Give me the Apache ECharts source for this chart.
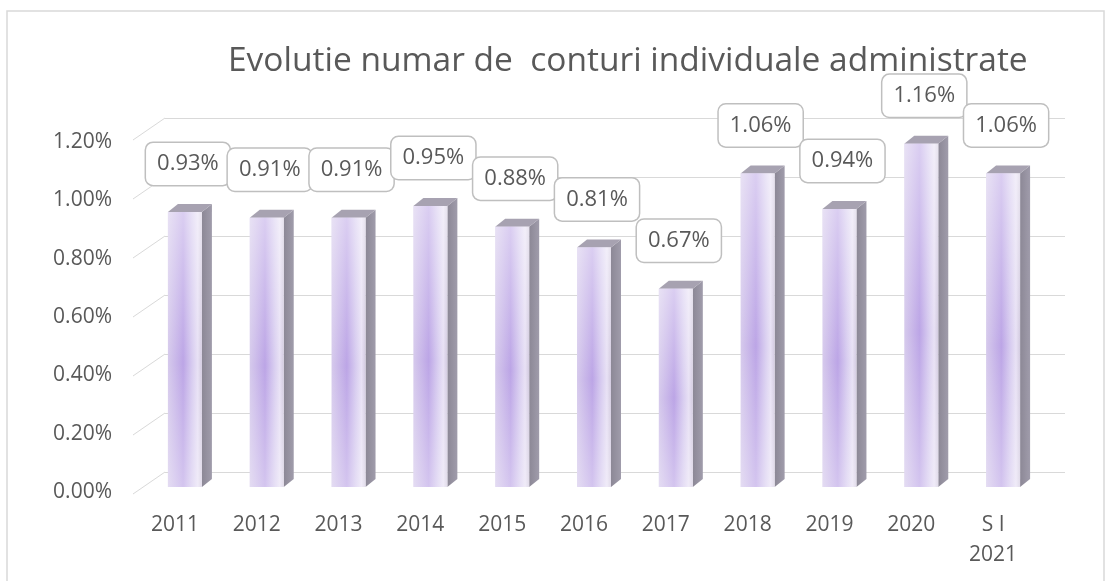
<!DOCTYPE html>
<html style="height: 100%">
<head>
    <meta charset="utf-8">
    <script src="https://cdn.jsdelivr.net/npm/echarts@6/dist/echarts.min.js"></script>
</head>
<body style="height: 100%; margin: 0; background: #fff">
<div id="container" style="width: 1111px; height: 581px"></div>
<script type="text/javascript">
const years = ['2011', '2012', '2013', '2014', '2015', '2016', '2017', '2018', '2019', '2020', 'S I\n2021'];
const values = [0.93, 0.91, 0.91, 0.95, 0.88, 0.81, 0.67, 1.06, 0.94, 1.16, 1.06];
const yTicks = [0, 0.2, 0.4, 0.6, 0.8, 1.0, 1.2];

const txt = '#595959';
const font = 'Open Sans';

const myChart = echarts.init(document.getElementById('container'));

// front face: horizontal shading + vertical glow
const faceH = new echarts.graphic.LinearGradient(0, 0, 1, 0, [
    {offset: 0, color: '#d6caec'},
    {offset: 0.45, color: '#bca5e6'},
    {offset: 0.72, color: '#d8cdf0'},
    {offset: 0.88, color: '#e8e1f5'},
    {offset: 1, color: '#d2cadf'}
]);
const faceV = new echarts.graphic.LinearGradient(0, 0, 0, 1, [
    {offset: 0, color: 'rgba(255,255,255,0.45)'},
    {offset: 0.55, color: 'rgba(255,255,255,0)'},
    {offset: 1, color: 'rgba(255,255,255,0.35)'}
]);

function renderBar(params, api) {
    const base = api.coord([api.value(0), 0]);
    const top = api.coord([api.value(0), api.value(1)]);
    const cx = top[0], hw = 17, dx = 10, dy = 8;
    const yt = top[1], yb = base[1];
    return {
        type: 'group',
        children: [
            {
                type: 'polygon',
                shape: {points: [[cx + hw, yt], [cx + hw + dx, yt - dy], [cx + hw + dx, yb - dy], [cx + hw, yb]]},
                style: {fill: new echarts.graphic.LinearGradient(0, 0, 1, 0, [
                    {offset: 0, color: '#8c8896'}, {offset: 1, color: '#a09cab'}])}
            },
            {
                type: 'polygon',
                shape: {points: [[cx - hw, yt], [cx - hw + dx, yt - dy], [cx + hw + dx, yt - dy], [cx + hw, yt]]},
                style: {fill: '#a7a2b1'}
            },
            {
                type: 'rect',
                shape: {x: cx - hw, y: yt, width: hw * 2, height: yb - yt},
                style: {fill: faceH}
            },
            {
                type: 'rect',
                shape: {x: cx - hw, y: yt, width: hw * 2, height: yb - yt},
                style: {fill: faceV}
            },
            {
                type: 'text',
                x: cx + 3,
                y: yt - 48,
                style: {
                    text: api.value(1).toFixed(2) + '%',
                    fontFamily: font,
                    fontSize: 22,
                    fill: txt,
                    align: 'center',
                    verticalAlign: 'middle',
                    backgroundColor: '#fff',
                    borderColor: '#bfbfbf',
                    borderWidth: 1.5,
                    borderRadius: 7,
                    padding: [10, 11]
                }
            }
        ]
    };
}

function renderDiag(params, api) {
    const p = api.coord([0, api.value(0)]);
    const x0 = params.coordSys.x;
    return {
        type: 'line',
        shape: {x1: x0 - 32, y1: p[1] + 22, x2: x0, y2: p[1]},
        style: {stroke: '#d9d9d9', lineWidth: 1}
    };
}

const option = {
    backgroundColor: '#fff',
    animation: false,
    title: {
        text: 'Evolutie numar de  conturi individuale administrate',
        left: 228,
        top: 44,
        padding: 0,
        textStyle: {fontFamily: font, fontSize: 33.5, fontWeight: 'normal', color: txt}
    },
    graphic: [{
        type: 'rect',
        shape: {x: 7, y: 11, width: 1097, height: 620},
        style: {fill: 'none', stroke: '#d9d9d9', lineWidth: 1.5},
        silent: true
    }],
    grid: [
        {left: 134, right: 77, top: 142, bottom: 89},
        {left: 165, right: 46, top: 118, bottom: 109},
        {left: 144, right: 67, top: 132, bottom: 94}
    ],
    xAxis: [
        {
            gridIndex: 0, type: 'category', data: years,
            axisLine: {show: false}, axisTick: {show: false},
            axisLabel: {color: txt, fontFamily: font, fontSize: 21, margin: 18, lineHeight: 30, interval: 0}
        },
        {gridIndex: 1, type: 'category', data: years, show: false},
        {gridIndex: 2, type: 'category', data: years, show: false}
    ],
    yAxis: [
        {
            gridIndex: 0, type: 'value', min: 0, max: 1.2, interval: 0.2,
            axisLine: {show: false}, axisTick: {show: false}, splitLine: {show: false},
            axisLabel: {color: txt, fontFamily: font, fontSize: 21, margin: 22,
                formatter: v => v.toFixed(2) + '%'}
        },
        {
            gridIndex: 1, type: 'value', min: 0, max: 1.2, interval: 0.2,
            axisLine: {show: false}, axisTick: {show: false}, axisLabel: {show: false},
            splitLine: {lineStyle: {color: '#d9d9d9', width: 1}}
        },
        {gridIndex: 2, type: 'value', min: 0, max: 1.2, show: false}
    ],
    series: [
        {
            type: 'custom', xAxisIndex: 1, yAxisIndex: 1,
            data: yTicks.map(v => [v]),
            encode: {y: 0},
            renderItem: renderDiag
        },
        {
            type: 'custom', xAxisIndex: 2, yAxisIndex: 2,
            data: values.map((v, i) => [i, v]),
            encode: {x: 0, y: 1},
            renderItem: renderBar,
            z: 5
        }
    ]
};

myChart.setOption(option);
</script>
</body>
</html>
